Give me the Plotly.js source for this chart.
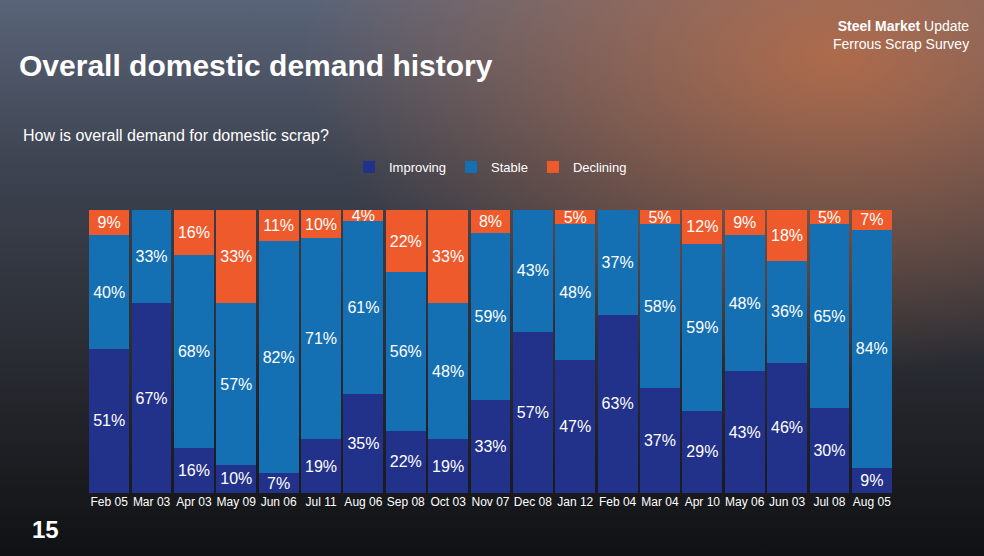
<!DOCTYPE html>
<html>
<head>
<meta charset="utf-8">
<script src="https://cdn.plot.ly/plotly-3.0.1.min.js"></script>
<style>
  html, body { margin: 0; padding: 0; }
  body {
    width: 984px; height: 556px; overflow: hidden;
    background:
      radial-gradient(ellipse at 85% 10%, rgba(190,110,70,0.85), rgba(0,0,0,0) 45%),
      linear-gradient(180deg, #5a6478 0%, #3d4350 30%, #2c2f36 60%, #101114 100%);
  }
  #chart { width: 984px; height: 556px; }
</style>
</head>
<body>
<div id="chart"></div>
<script>
var months = ['Feb 05', 'Mar 03', 'Apr 03', 'May 09', 'Jun 06', 'Jul 11', 'Aug 06', 'Sep 08', 'Oct 03', 'Nov 07',
  'Dec 08', 'Jan 12', 'Feb 04', 'Mar 04', 'Apr 10', 'May 06', 'Jun 03', 'Jul 08', 'Aug 05'];
var improving = [51, 67, 16, 10, 7, 19, 35, 22, 19, 33, 57, 47, 63, 37, 29, 43, 46, 30, 9];
var stable = [40, 33, 68, 57, 82, 71, 61, 56, 48, 59, 43, 48, 37, 58, 59, 48, 36, 65, 84];
var declining = [9, 0, 16, 33, 11, 10, 4, 22, 33, 8, 0, 5, 0, 5, 12, 9, 18, 5, 7];

function makeTrace(vals, name, color) {
  return {
    x: months,
    y: vals,
    type: 'bar',
    name: name,
    marker: { color: color },
    text: vals.map(function (v) { return v > 0 ? v + '%' : ''; }),
    textposition: 'inside',
    insidetextanchor: 'middle',
    textfont: { color: '#ffffff', size: 16, family: 'Liberation Sans, Arial' },
    constraintext: 'none',
    hoverinfo: 'none'
  };
}

var data = [
  makeTrace(improving, 'Improving', '#22318a'),
  makeTrace(stable, 'Stable', '#1570b3'),
  makeTrace(declining, 'Declining', '#ee5a2b')
];

var layout = {
  width: 984,
  height: 556,
  barmode: 'stack',
  bargap: 0.06,
  paper_bgcolor: 'rgba(0,0,0,0)',
  plot_bgcolor: 'rgba(0,0,0,0)',
  margin: { l: 88, r: 91, t: 210, b: 63 },
  font: { family: 'Liberation Sans, Arial', color: '#ffffff' },
  xaxis: {
    tickfont: { size: 12, color: '#ffffff' },
    tickangle: 0,
    showgrid: false,
    zeroline: false,
    ticks: ''
  },
  yaxis: { range: [0, 100], visible: false, fixedrange: true },
  showlegend: true,
  legend: {
    orientation: 'h',
    x: 0.5, xanchor: 'center',
    y: 1.152, yanchor: 'middle',
    font: { size: 13, color: '#ffffff' },
    traceorder: 'normal'
  },
  annotations: [
    { text: '<b>Overall domestic demand history</b>', xref: 'paper', yref: 'paper',
      x: -0.088, y: 1.51, xanchor: 'left', yanchor: 'middle', showarrow: false,
      font: { size: 30, color: '#ffffff', family: 'Liberation Sans, Arial' } },
    { text: 'How is overall demand for domestic scrap?', xref: 'paper', yref: 'paper',
      x: -0.083, y: 1.265, xanchor: 'left', yanchor: 'middle', showarrow: false,
      font: { size: 16, color: '#ffffff' } },
    { text: '<b>Steel Market</b> Update<br>Ferrous Scrap Survey', xref: 'paper', yref: 'paper',
      x: 1.097, y: 1.62, xanchor: 'right', yanchor: 'middle', showarrow: false, align: 'right',
      font: { size: 14, color: '#ffffff' } },
    { text: '<b>15</b>', xref: 'paper', yref: 'paper',
      x: -0.072, y: -0.13, xanchor: 'left', yanchor: 'middle', showarrow: false,
      font: { size: 24, color: '#ffffff' } }
  ]
};

Plotly.newPlot('chart', data, layout, { displayModeBar: false, staticPlot: true });
</script>
</body>
</html>
